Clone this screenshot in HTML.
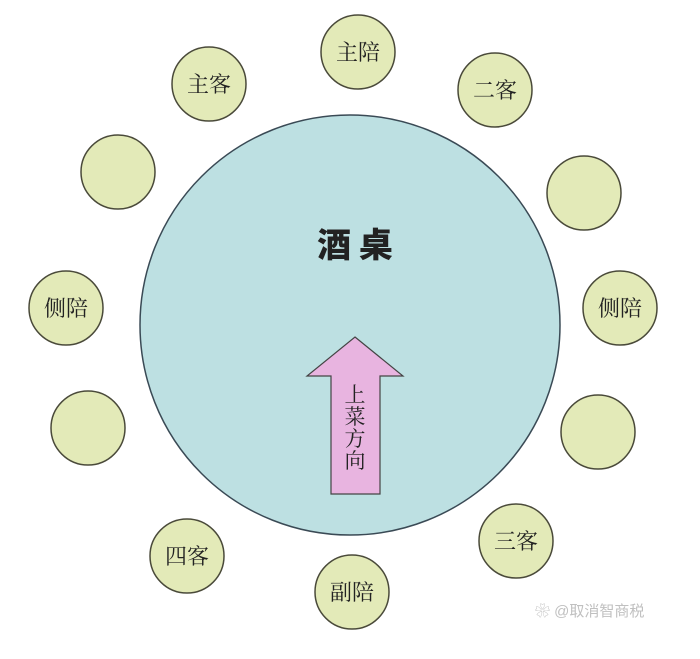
<!DOCTYPE html>
<html><head><meta charset="utf-8"><style>
html,body{margin:0;padding:0;background:#fff;}
svg{display:block;}
text{font-family:"Liberation Serif","Noto Serif CJK SC",serif;fill:#222;}
</style></head><body>
<svg width="700" height="659" viewBox="0 0 700 659" xmlns="http://www.w3.org/2000/svg">
<circle cx="350" cy="325" r="210" fill="#bde0e2" stroke="#3a4a55" stroke-width="1.5"/>
<g fill="#e3eab8" stroke="#4a4a3a" stroke-width="1.5">
<circle cx="358" cy="52" r="37"/>
<circle cx="209" cy="84" r="37"/>
<circle cx="495" cy="90" r="37"/>
<circle cx="118" cy="172" r="37"/>
<circle cx="584" cy="193" r="37"/>
<circle cx="66" cy="308" r="37"/>
<circle cx="620" cy="308" r="37"/>
<circle cx="88" cy="428" r="37"/>
<circle cx="598" cy="432" r="37"/>
<circle cx="187" cy="556" r="37"/>
<circle cx="516" cy="541" r="37"/>
<circle cx="352" cy="592" r="37"/>
</g>
<g font-size="22" text-anchor="middle">
<text x="358" y="60">主陪</text>
<text x="209" y="92">主客</text>
<text x="495" y="98">二客</text>
<text x="66" y="316">侧陪</text>
<text x="620" y="316">侧陪</text>
<text x="187" y="564">四客</text>
<text x="516" y="549">三客</text>
<text x="352" y="600">副陪</text>
</g>
<text x="355" y="257" font-size="34" font-weight="bold" text-anchor="middle" fill="#111" style="font-family:'Noto Sans CJK SC',sans-serif;font-weight:900">酒 桌</text>
<polygon points="355,337 403,376 380,376 380,494 331,494 331,376 307,376" fill="#e8b4e0" stroke="#444" stroke-width="1.2"/>
<g font-size="21" text-anchor="middle">
<text x="355" y="402">上</text>
<text x="355" y="424">菜</text>
<text x="355" y="446">方</text>
<text x="355" y="468">向</text>
</g>
<text x="535" y="616" font-size="15" fill="#c8c8c8" style="font-family:'Liberation Sans','Noto Sans CJK SC',sans-serif;fill:#c0c0c0">❀ @取消智商税</text>
</svg>
</body></html>
